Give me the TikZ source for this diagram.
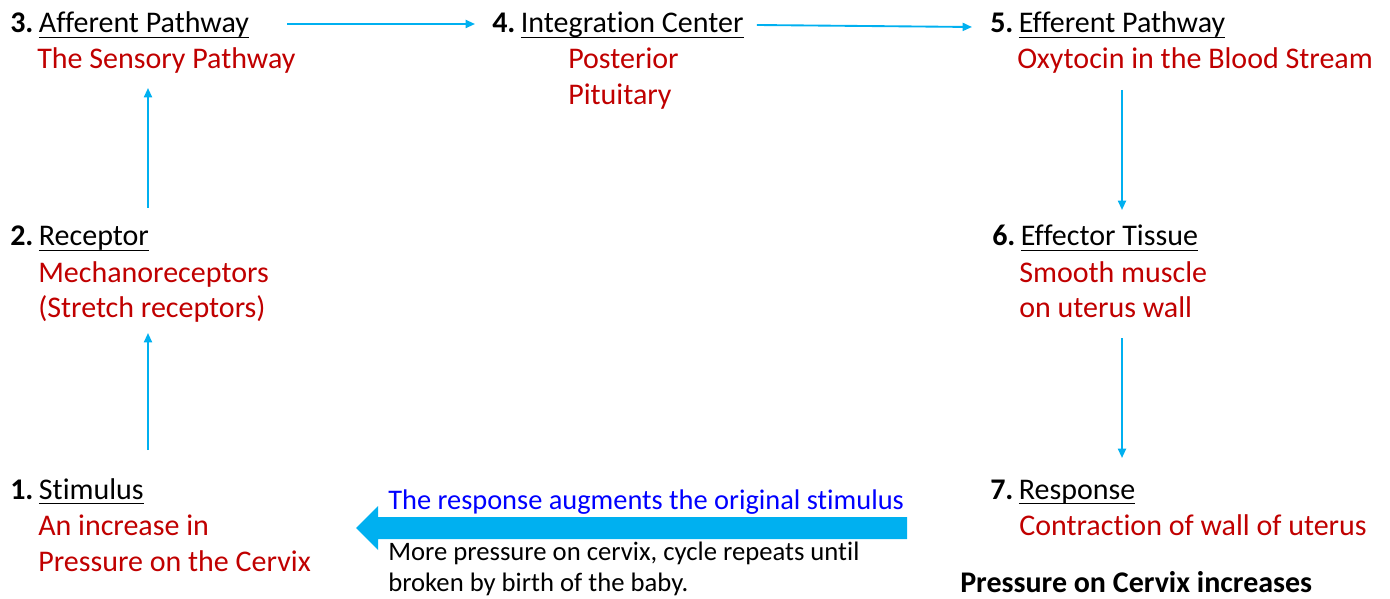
\documentclass[tikz,border=0pt]{standalone}
\usepackage{fontspec}
\setmainfont{Carlito}[Ligatures={NoCommon}]
\usetikzlibrary{arrows.meta,calc}
\definecolor{cy}{RGB}{0,176,240}
\definecolor{dred}{RGB}{192,0,0}
\definecolor{bl}{RGB}{0,0,255}
\newcommand\myul[1]{\setbox0\hbox{#1}\rlap{\rule[-4pt]{\wd0}{1.2pt}}\box0}
\newcommand\stepnum[1]{\textbf{#1}\kern-1pt\ }
\begin{document}
\begin{tikzpicture}[x=0.75pt,y=-0.75pt,
  txt/.style={anchor=base west,inner sep=0,font=\fontsize{22.5}{27}\selectfont},
  desc/.style={txt,text=dred},
  small/.style={txt,font=\fontsize{20}{24}\selectfont},
  conn/.style={draw=cy,line width=1.4pt,-{Triangle[length=7pt,width=6pt]}}]
\useasboundingbox (0,0) rectangle (1390,599);
% headings and descriptions
\node[txt] (h3) at (10,33) {\stepnum{3.}\myul{Afferent Pathway}};
\node[desc] (d3) at (37,69) {The Sensory Pathway};
\node[txt] (h4) at (492,33) {\stepnum{4.}\myul{Integration Center}};
\node[desc] (d4a) at (568,69) {Posterior};
\node[desc] (d4b) at (568,105) {Pituitary};
\node[txt] (h5) at (990,33) {\stepnum{5.}\myul{Efferent Pathway}};
\node[desc] (d5) at (1017,69) {Oxytocin in the Blood Stream};
\node[txt] (h2) at (10,246) {\stepnum{2.}\myul{Receptor}};
\node[desc] (d2a) at (38,282) {Mechanoreceptors};
\node[desc] (d2b) at (38,318) {(Stretch receptors)};
\node[txt] (h6) at (992,246) {\stepnum{6.}\myul{Effector Tissue}};
\node[desc] (d6a) at (1019,282) {Smooth muscle};
\node[desc] (d6b) at (1019,318) {on uterus wall};
\node[txt] (h1) at (10,499) {\stepnum{1.}\myul{Stimulus}};
\node[desc] (d1a) at (38,535) {An increase in};
\node[desc] (d1b) at (38,571) {Pressure on the Cervix};
\node[txt] (h7) at (990,499) {\stepnum{7.}\myul{Response}};
\node[desc] (d7) at (1019,535) {Contraction of wall of uterus};
\node[txt,font=\bfseries\fontsize{22.5}{27}\selectfont] (inc) at (960,592) {Pressure on Cervix increases};
% feedback arrow and texts
\fill[cy] (907,517) -- (378,517) -- (378,506) -- (356,528) -- (378,550) -- (378,539) -- (907,539) -- cycle;
\node[txt,text=bl,font=\fontsize{21.3}{26}\selectfont] (aug) at (388,509) {The response augments the original stimulus};
\node[small] (m1) at (388,560) {More pressure on cervix, cycle repeats until};
\node[small] (m2) at (388,591) {broken by birth of the baby.};
% connectors
\draw[conn] ([shift={(38,-9)}]h3.base east) -- ([shift={(-17,-9)}]h4.base west);
\draw[conn] ([shift={(13,-8)}]h4.base east) -- ([shift={(-18,-6)}]h5.base west);
\draw[conn] ([shift={(138,-38)}]h2.base west) -- ([shift={(111,19)}]d3.base west);
\draw[conn] ([shift={(138,-49)}]h1.base west) -- ([shift={(110,15)}]d2b.base west);
\draw[conn] ([shift={(105,21)}]d5.base west) -- ([shift={(130,-36)}]h6.base west);
\draw[conn] ([shift={(103,20)}]d6b.base west) -- ([shift={(132,-41)}]h7.base west);
\end{tikzpicture}
\end{document}
